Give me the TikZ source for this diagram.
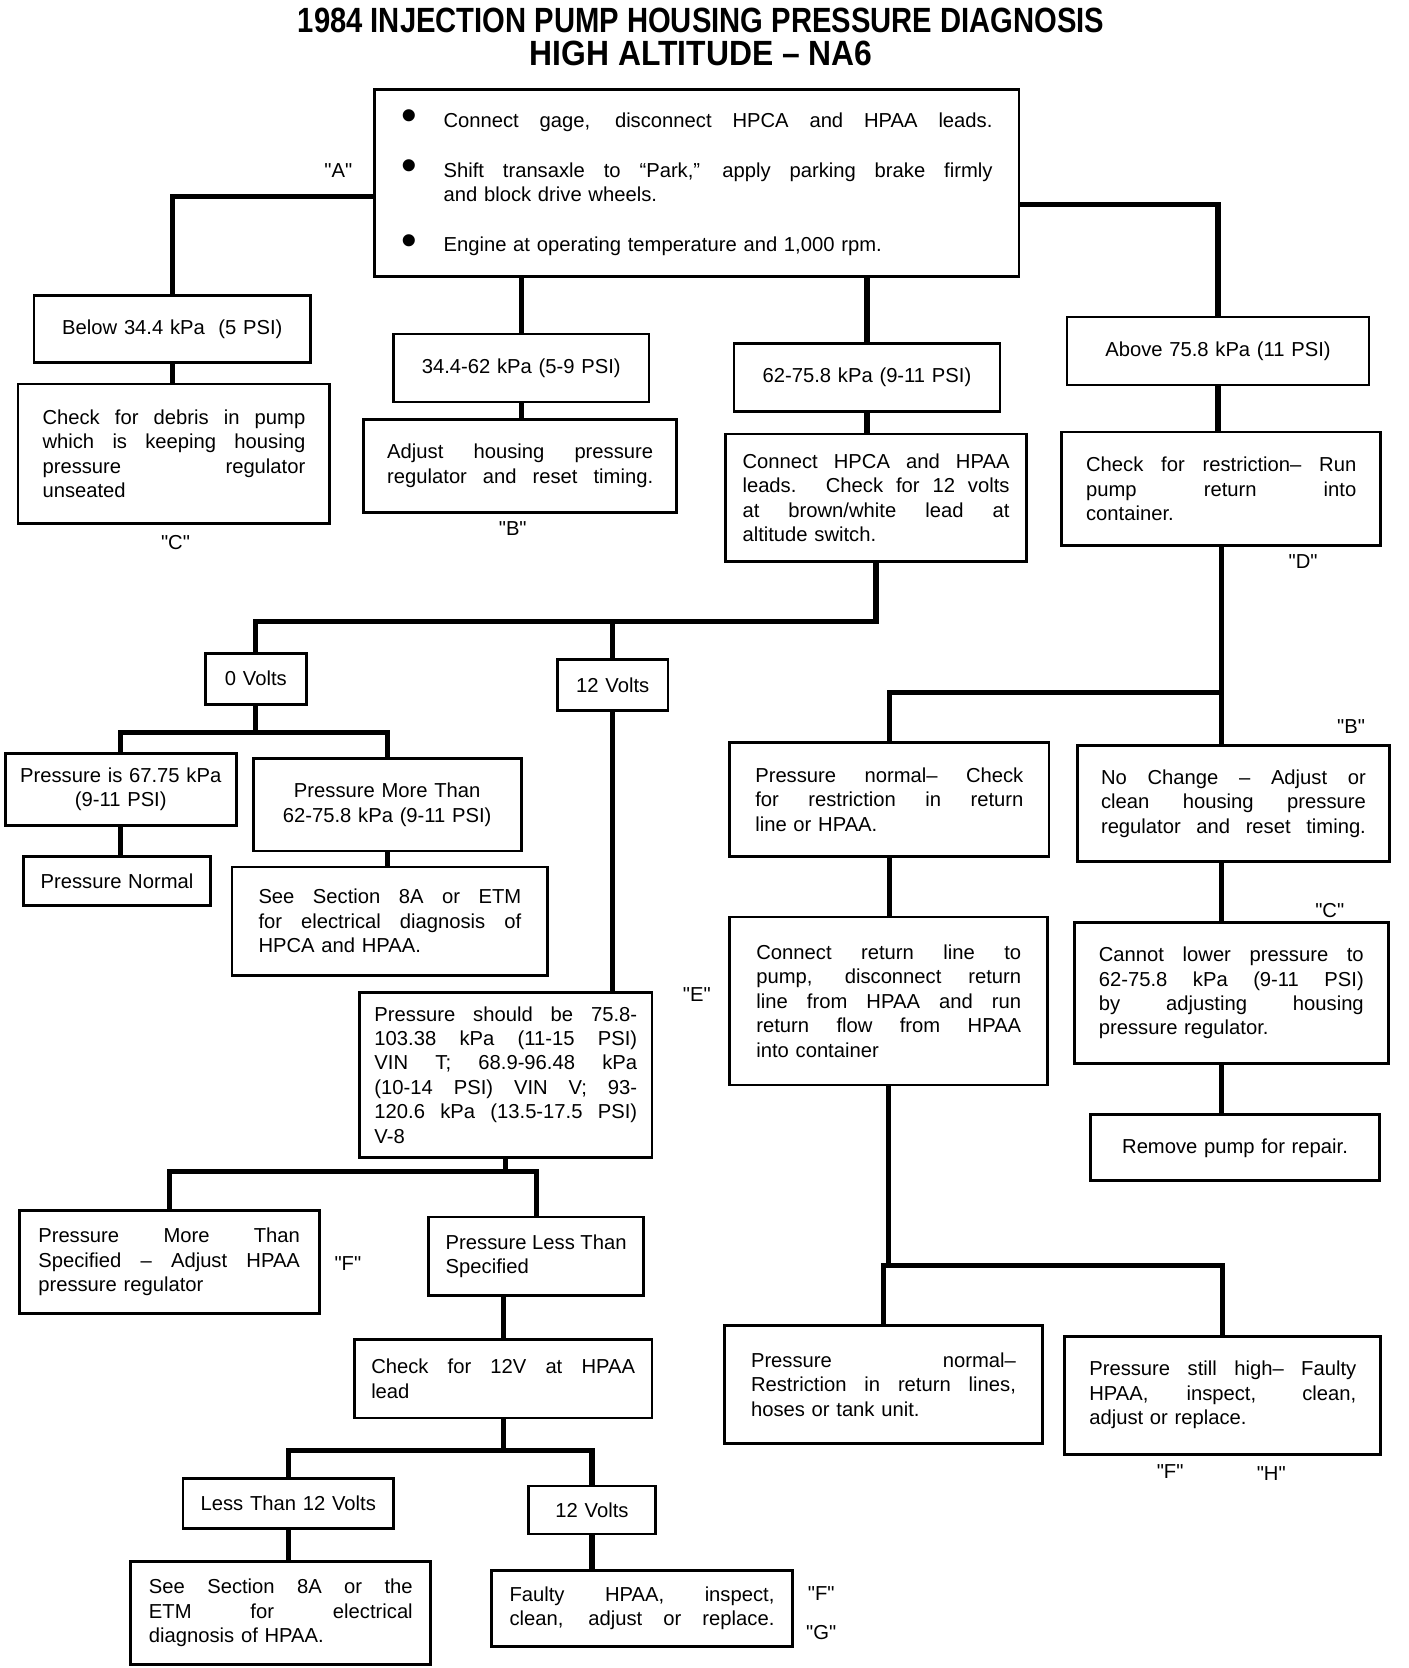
\documentclass[tikz,border=0pt]{standalone}
\usepackage{fontspec}
\usepackage{graphicx}
\setmainfont{Liberation Sans}
\usetikzlibrary{calc}
\newcommand\J[1]{{\spaceskip=0pt\xspaceskip=0pt\makebox[\hsize][s]{#1}}}
\newcommand\JW[2]{{\spaceskip=0pt\xspaceskip=0pt\makebox[#1][s]{#2}}}
\newcommand\qq[1]{\textquotedbl #1\textquotedbl}
\newcommand\bul{\makebox[20pt][l]{\raisebox{-1.5pt}{\scalebox{2.2}{\textbullet}}}}
\newcommand\bnode[8]{%
  \pgfmathsetmacro\bxW{(#4-#2)*0.5}%
  \pgfmathsetmacro\bxH{(#5-#3)*0.5}%
  \pgfmathsetmacro\bxT{(#4-#2-2*#6)*0.5}%
  \node[bx,#7,minimum width=\bxW pt,minimum height=\bxH pt,text width=\bxT pt] (#1) at ({(#2+#4)/2},{(#3+#5)/2}) {#8};}
\tikzset{
  bx/.style={draw,line width=1.3pt,inner sep=0pt,font=\fontsize{9.5}{11.5}\selectfont},
  conn/.style={line width=2.4pt,line cap=rect},
  lbl/.style={font=\fontsize{9.5}{11}\selectfont,inner sep=0pt},
  ttl/.style={inner sep=0pt}
}
\begin{document}
\begin{tikzpicture}[x=0.5pt,y=-0.5pt]
\useasboundingbox (0,0) rectangle (1324,1568);
% title
\node[ttl] (t1) at (659,19) {\resizebox{379pt}{11.5pt}{\bfseries 1984 INJECTION PUMP HOUSING PRESSURE DIAGNOSIS}};
\node[ttl] (t2) at (659,50) {\resizebox{161pt}{11.5pt}{\bfseries HIGH ALTITUDE – NA6}};
% top box
\bnode{A}{352}{84}{958}{260}{25}{align=left}{%
\bul\JW{258pt}{Connect gage, disconnect HPCA and HPAA leads.}\\[12pt]
\bul\JW{258pt}{Shift transaxle to ``Park,'' apply parking brake firmly}\\
\makebox[20pt][l]{}and block drive wheels.\\[12pt]
\bul Engine at operating temperature and 1,000 rpm.}
% first level
\bnode{b1}{32}{278}{292}{341}{8}{align=center}{Below 34.4 kPa \ (5 PSI)}
\bnode{b2}{370}{314}{610}{378}{8}{align=center}{34.4-62 kPa (5-9 PSI)}
\bnode{b3}{690}{323}{940}{387}{8}{align=center}{62-75.8 kPa (9-11 PSI)}
\bnode{b4}{1003}{298}{1287}{362}{8}{align=center}{Above 75.8 kPa (11 PSI)}
% second level
\bnode{d1}{17}{361}{310}{492}{23}{align=left}{\J{Check for debris in pump}\\\J{which is keeping housing}\\\J{pressure regulator}\\unseated}
\bnode{d2}{342}{394}{636}{482}{22}{align=left}{\J{Adjust housing pressure}\\\J{regulator and reset timing.}}
\bnode{c2}{682}{408}{965}{528}{16}{align=left}{\J{Connect HPCA and HPAA}\\\J{leads. Check for 12 volts}\\\J{at brown/white lead at}\\altitude switch.}
\bnode{d4}{998}{406}{1298}{513}{23}{align=left}{\J{Check for restriction– Run}\\\J{pump return into}\\container.}
% volts
\bnode{v0}{193}{614}{288}{662}{3}{align=center}{0 Volts}
\bnode{v12}{524}{620}{628}{668}{3}{align=center}{12 Volts}
\bnode{p67}{5}{708}{222}{776}{3}{align=center}{Pressure is 67.75 kPa\\(9-11 PSI)}
\bnode{pmt}{238}{713}{490}{800}{8}{align=center}{Pressure More Than\\62-75.8 kPa (9-11 PSI)}
\bnode{pn}{22}{805}{198}{851}{3}{align=center}{Pressure Normal}
\bnode{ss1}{218}{815}{515}{917}{25}{align=left}{\J{See Section 8A or ETM}\\\J{for electrical diagnosis of}\\HPCA and HPAA.}
\bnode{ps}{338}{933}{613}{1088}{14}{align=left}{\J{Pressure should be 75.8-}\\\J{103.38 kPa (11-15 PSI)}\\\J{VIN T; 68.9-96.48 kPa}\\\J{(10-14 PSI) VIN V; 93-}\\\J{120.6 kPa (13.5-17.5 PSI)}\\V-8}
\bnode{pmts}{18}{1138}{300}{1235}{18}{align=left}{\J{Pressure More Than}\\\J{Specified – Adjust HPAA}\\pressure regulator}
\bnode{plts}{403}{1144}{605}{1218}{16}{align=left}{\J{Pressure Less Than}\\Specified}
\bnode{c12}{333}{1259}{613}{1333}{16}{align=left}{\J{Check for 12V at HPAA}\\lead}
\bnode{lt12}{172}{1390}{370}{1437}{3}{align=center}{Less Than 12 Volts}
\bnode{v12b}{497}{1397}{616}{1442}{3}{align=center}{12 Volts}
\bnode{ss2}{123}{1468}{405}{1565}{17}{align=left}{\J{See Section 8A or the}\\\J{ETM for electrical}\\diagnosis of HPAA.}
\bnode{fh}{462}{1476}{745}{1548}{17}{align=left}{\J{Faulty HPAA, inspect,}\\\J{clean, adjust or replace.}}
% right side
\bnode{pnc}{686}{698}{986}{805}{24}{align=left}{\J{Pressure normal– Check}\\\J{for restriction in return}\\line or HPAA.}
\bnode{nc}{1013}{701}{1306}{810}{22}{align=left}{\J{No Change – Adjust or}\\\J{clean housing pressure}\\\J{regulator and reset timing.}}
\bnode{cr}{686}{862}{985}{1020}{25}{align=left}{\J{Connect return line to}\\\J{pump, disconnect return}\\\J{line from HPAA and run}\\\J{return flow from HPAA}\\into container}
\bnode{cl}{1010}{867}{1305}{1000}{23}{align=left}{\J{Cannot lower pressure to}\\\J{62-75.8 kPa (9-11 PSI)}\\\J{by adjusting housing}\\pressure regulator.}
\bnode{rp}{1025}{1048}{1297}{1110}{8}{align=center}{Remove pump for repair.}
\bnode{pn2}{681}{1246}{980}{1357}{25}{align=left}{\J{Pressure normal–}\\\J{Restriction in return lines,}\\hoses or tank unit.}
\bnode{psh}{1001}{1256}{1298}{1367}{23}{align=left}{\J{Pressure still high– Faulty}\\\J{HPAA, inspect, clean,}\\adjust or replace.}
% labels
\node[lbl] (lA) at (318,160) {\qq{A}};
\node[lbl] (lC1) at (165,510) {\qq{C}};
\node[lbl] (lB1) at (482,497) {\qq{B}};
\node[lbl] (lD) at (1225,528) {\qq{D}};
\node[lbl] (lB2) at (1270,683) {\qq{B}};
\node[lbl] (lC2) at (1250,856) {\qq{C}};
\node[lbl] (lE) at (655,935) {\qq{E}};
\node[lbl] (lF1) at (327,1188) {\qq{F}};
\node[lbl] (lF2) at (772,1498) {\qq{F}};
\node[lbl] (lG) at (772,1535) {\qq{G}};
\node[lbl] (lF3) at (1100,1383) {\qq{F}};
\node[lbl] (lH) at (1195,1385) {\qq{H}};
% connectors
\draw[conn] ($(A.west)+(0,13)$) -| (b1.north);
\draw[conn] ($(A.east)+(0,20)$) -| (b4.north);
\draw[conn] (b2.north) -- (b2.north |- A.south);
\draw[conn] (b3.north) -- (b3.north |- A.south);
\draw[conn] (b1.south) -- (b1.south |- d1.north);
\draw[conn] (b2.south) -- (b2.south |- d2.north);
\draw[conn] (b3.south) -- (b3.south |- c2.north);
\draw[conn] (b4.south) -- (b4.south |- d4.north);
\coordinate (j1) at ($(c2.south)+(0,55)$);
\draw[conn] (c2.south) -- (j1) -| (v0.north);
\draw[conn] (j1) -| (v12.north);
\coordinate (j2) at ($(v0.south)+(0,25)$);
\draw[conn] (v0.south) -- (j2) -| (p67.north);
\draw[conn] (j2) -| (pmt.north);
\draw[conn] (p67.south) -- (p67.south |- pn.north);
\draw[conn] (pmt.south) -- (pmt.south |- ss1.north);
\draw[conn] (v12.south) -- (v12.south |- ps.north);
\coordinate (j3) at ($(ps.south)+(0,12)$);
\draw[conn] (ps.south) -- (j3) -| (pmts.north);
\draw[conn] (j3) -| (plts.north);
\draw[conn] (c12.north |- plts.south) -- (c12.north);
\coordinate (j4) at ($(c12.south)+(0,29)$);
\draw[conn] (c12.south) -- (j4) -| (lt12.north);
\draw[conn] (j4) -| (v12b.north);
\draw[conn] (lt12.south) -- (lt12.south |- ss2.north);
\draw[conn] (v12b.south) -- (v12b.south |- fh.north);
\coordinate (j5) at ($(d4.south)+(0,137)$);
\draw[conn] (d4.south) -- (j5) -| (pnc.north);
\draw[conn] (j5) -- (j5 |- nc.north);
\draw[conn] (pnc.south) -- (pnc.south |- cr.north);
\draw[conn] (j5 |- nc.south) -- (j5 |- cl.north);
\draw[conn] (j5 |- cl.south) -- (j5 |- rp.north);
\coordinate (j6) at ($(cr.south)+(0,168)$);
\draw[conn] (cr.south) -- (j6) -| (pn2.north);
\draw[conn] (j6) -| (psh.north);
\end{tikzpicture}
\end{document}
